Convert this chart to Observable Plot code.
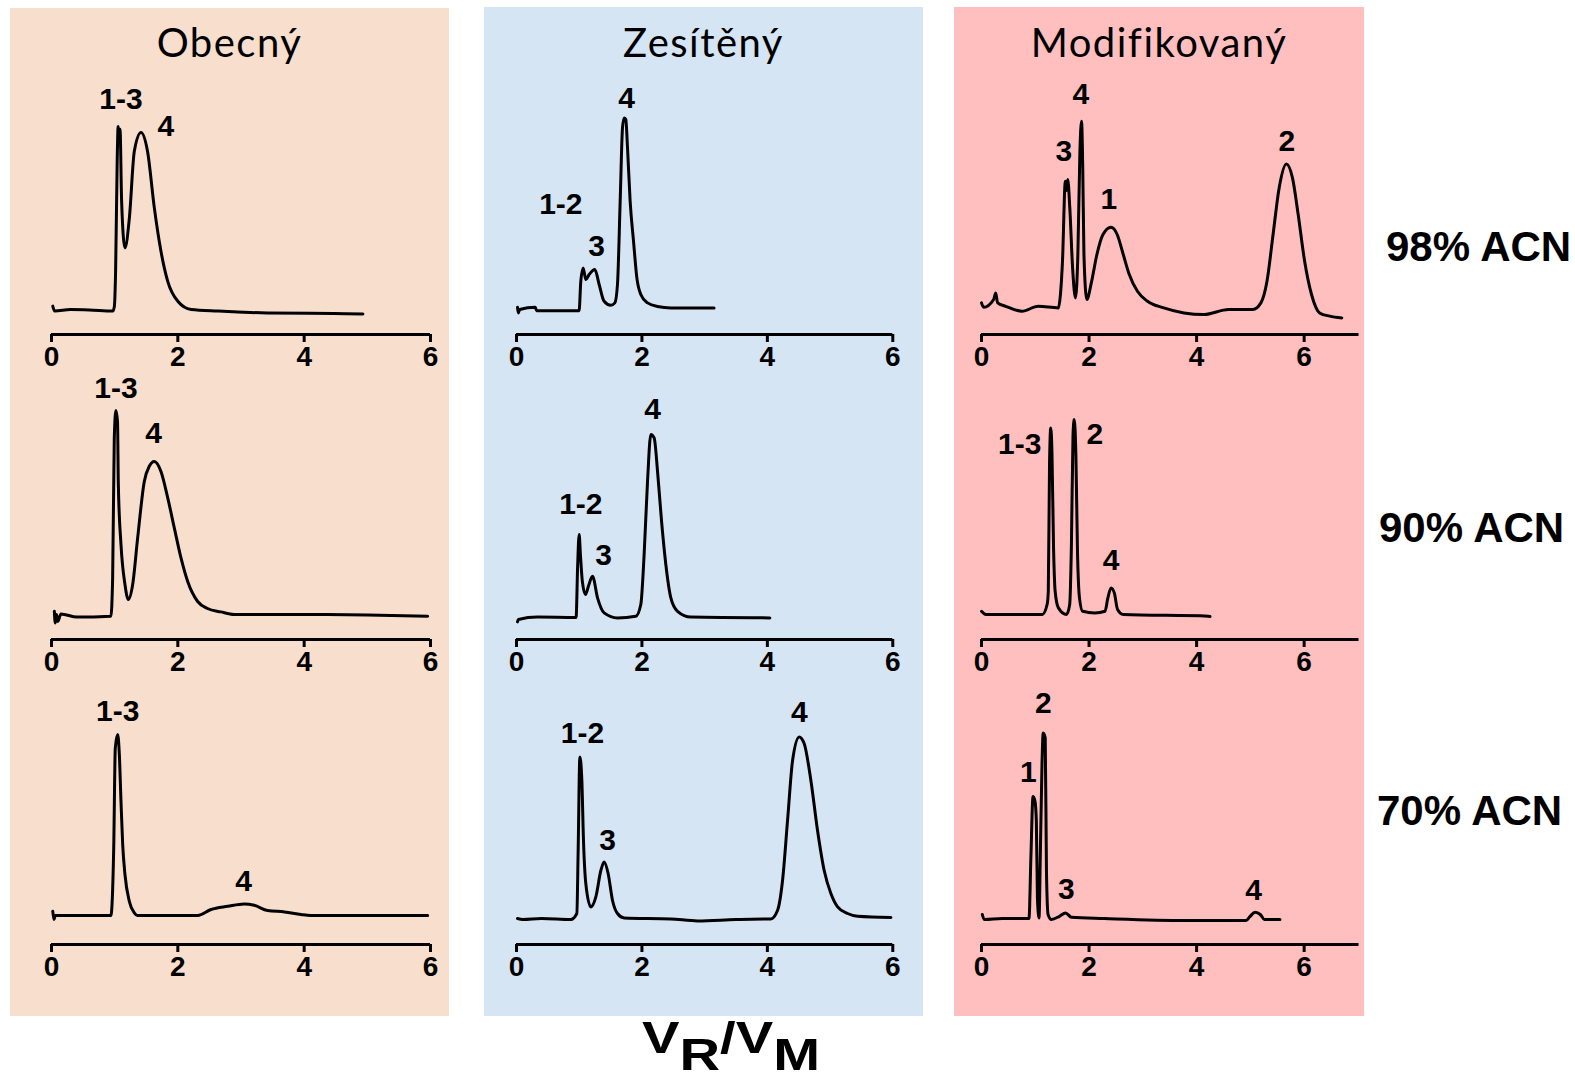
<!DOCTYPE html>
<html>
<head>
<meta charset="utf-8">
<script src="https://cdn.jsdelivr.net/npm/d3@7"></script>
<script src="https://cdn.jsdelivr.net/npm/@observablehq/plot@0.6"></script>
<style>
  body { margin: 0; background: #ffffff; }
  #fig { position: relative; width: 1575px; height: 1081px; overflow: hidden; background: #ffffff; }
  .panel { position: absolute; }
  .chart { position: absolute; }
  .chart svg { overflow: visible; max-width: none; }
  #overlay { position: absolute; left: 0; top: 0; }
</style>
</head>
<body>
<div id="fig"></div>
<script>
// ---------- DATA ----------
const columns = ["Obecný", "Zesítěný", "Modifikovaný"];
const rows = ["98% ACN", "90% ACN", "70% ACN"];
const xTicks = [0, 2, 4, 6];
const xLabel = ["V", "R", "/", "V", "M"];

// traces: [V_R/V_M, signal (a.u.)]
const obecny98 = [[0.02,2.2],[0.05,-0.3],[0.3,0.5],[0.6,0.3],[0.97,-0.3],[0.995,2],[1.015,20],[1.04,75],[1.055,92],[1.07,88],[1.085,90.6],[1.11,54.6],[1.163,31.3],[1.232,46],[1.311,79.6],[1.417,89],[1.52,79.6],[1.628,51.3],[1.733,29.6],[1.84,14.6],[2.0,4.6],[2.21,0.5],[2.64,-0.3],[3.42,-1.2],[4.47,-1.5],[4.93,-1.7]];
const obecny90 = [[0.045,2.1],[0.06,-3.7],[0.08,0.5],[0.1,-3],[0.15,0.8],[0.4,-0.8],[0.94,-0.35],[0.968,18.8],[0.994,88.8],[1.02,102.5],[1.045,97],[1.058,65.5],[1.10,35.5],[1.163,15.5],[1.216,8],[1.285,15.5],[1.364,38.8],[1.469,67],[1.548,74.6],[1.627,77],[1.733,72],[1.84,58.8],[1.944,43.8],[2.05,28.8],[2.156,17],[2.314,7],[2.47,3.5],[2.68,1.8],[2.89,0.5],[3.95,0.5],[5.0,0.3],[5.955,-0.35]];
const obecny70 = [[0.02,4.6],[0.04,0.5],[0.06,2.5],[0.94,2.5],[0.985,36.3],[1.01,86.3],[1.048,93],[1.074,83],[1.10,59.6],[1.127,38],[1.163,23],[1.232,9.6],[1.311,3.8],[1.36,2.5],[2.314,2.5],[2.525,5.5],[2.79,7.1],[3.05,8.3],[3.21,7.6],[3.42,5],[3.69,4.3],[3.95,3],[4.1,2.5],[5.955,2.5]];
const zesiteny98 = [[0.016,1.6],[0.03,-1.2],[0.05,0.5],[0.3,1.6],[0.32,-0.1],[0.998,-0.1],[1.025,14.6],[1.063,21.3],[1.105,15.5],[1.158,18],[1.249,20.5],[1.318,13],[1.397,4.6],[1.504,2.6],[1.568,3.8],[1.61,13],[1.653,54.6],[1.69,91.3],[1.716,96.3],[1.743,95.5],[1.77,81.3],[1.812,54.6],[1.866,34.6],[1.919,16.3],[1.982,8],[2.09,3.8],[2.249,2],[2.46,1.3],[3.15,1.3]];
const zesiteny90 = [[0.016,-3.2],[0.03,-2],[0.335,-0.8],[0.95,-1],[0.975,25],[0.999,40.5],[1.02,30],[1.05,17],[1.1,10.5],[1.15,15],[1.212,19.6],[1.292,8.8],[1.397,1.3],[1.61,-1.2],[1.903,-0.35],[1.982,5.5],[2.035,30.5],[2.089,67],[2.142,90.5],[2.195,88.8],[2.249,72],[2.313,47],[2.381,25.5],[2.461,8.8],[2.568,2.1],[2.78,-0.8],[4.04,-1.2]];
const zesiteny70 = [[0.016,1],[0.1,0.5],[0.4,1],[0.866,0.5],[0.962,3.5],[0.983,35],[1.01,81.8],[1.042,70],[1.068,40],[1.105,18.5],[1.185,6.8],[1.265,11.8],[1.345,25],[1.397,29.3],[1.461,23.5],[1.531,10],[1.61,3.5],[1.716,1.3],[2.46,0.8],[2.887,-0.2],[3.5,0.5],[4.056,0.8],[4.163,5.1],[4.242,20],[4.322,50],[4.402,80],[4.508,91.8],[4.587,88.5],[4.694,70],[4.8,45],[4.906,25],[5.013,13.5],[5.12,6.8],[5.279,3.5],[5.439,2.1],[5.97,1.5]];
const modif98 = [[0,3.8],[0.04,1.6],[0.226,5.5],[0.264,8.8],[0.3,3.8],[0.45,2.1],[0.753,-0.35],[1.054,2.1],[1.43,1.3],[1.468,8],[1.506,24.6],[1.559,64.6],[1.58,60],[1.604,65.5],[1.642,51.3],[1.694,21.3],[1.747,6.3],[1.792,28],[1.83,79.6],[1.86,94.6],[1.883,71.3],[1.905,28],[1.958,5.5],[2.048,14.6],[2.146,28],[2.259,38],[2.41,41.6],[2.523,38],[2.636,28],[2.748,18],[2.9,9.6],[3.087,4.6],[3.389,1.3],[3.765,-1.2],[4.14,-2],[4.593,0.5],[5.045,0.5],[5.196,3.8],[5.309,14.6],[5.422,38],[5.535,61.3],[5.67,73.3],[5.783,66.3],[5.889,48],[6.009,24.6],[6.137,8],[6.288,-1.2],[6.476,-2.8],[6.7,-3.7]];
const modif90 = [[0,2.1],[0.08,0.5],[1.13,0.5],[1.22,5.5],[1.242,12],[1.265,75.5],[1.288,93.8],[1.31,82],[1.34,33.8],[1.37,12],[1.43,3.8],[1.58,0.5],[1.64,5.5],[1.672,35.5],[1.702,90.5],[1.724,98],[1.755,80.5],[1.785,32],[1.822,8.8],[1.88,2.1],[2.108,1.3],[2.297,2.1],[2.35,8.8],[2.41,13.8],[2.47,11.3],[2.53,3],[2.636,0.5],[4.217,-0.35],[4.25,-0.5]];
const modif70 = [[0.015,3],[0.05,0.5],[0.39,1],[0.883,1],[0.92,33],[0.958,62],[0.996,59.5],[1.02,49.6],[1.04,11.3],[1.07,1.3],[1.094,33],[1.125,78],[1.147,93.8],[1.185,91.3],[1.208,24.6],[1.238,3],[1.3,0.5],[1.45,2.1],[1.562,3.8],[1.675,1.6],[2.28,1],[3.79,0],[4.92,0],[4.996,2.1],[5.087,4.1],[5.185,3],[5.26,0.5],[5.55,0.5]];

// peak labels: [text, V_R/V_M, signal]
const obecny98Peaks = [["1-3",1.10,105.6],["4",1.81,92]];
const obecny90Peaks = [["1-3",1.02,113.8],["4",1.618,91.3]];
const obecny70Peaks = [["1-3",1.048,104.6],["4",3.04,19.6]];
const zesiteny98Peaks = [["1-2",0.707,53.3],["3",1.276,32],["4",1.754,106.3]];
const zesiteny90Peaks = [["1-2",1.026,55.5],["3",1.387,30],["4",2.169,103]];
const zesiteny70Peaks = [["1-2",1.052,93.5],["3",1.451,40],["4",4.508,104.3]];
const modif98Peaks = [["3",1.53,79.5],["4",1.846,108.3],["1",2.37,55.8],["2",5.68,84.4]];
const modif90Peaks = [["1-3",0.71,85.8],["2",2.108,90.8],["4",2.41,27.7]];
const modif70Peaks = [["1",0.87,73.9],["2",1.15,108.5],["3",1.58,15.8],["4",5.06,15.3]];

const xMax = [6, 6, 7.02];

// ---------- LAYOUT ----------
const traces = [[obecny98, obecny90, obecny70],[zesiteny98, zesiteny90, zesiteny70],[modif98, modif90, modif70]];
const peaks = [[obecny98Peaks, obecny90Peaks, obecny70Peaks],[zesiteny98Peaks, zesiteny90Peaks, zesiteny70Peaks],[modif98Peaks, modif90Peaks, modif70Peaks]];
const panelColors = ["#F8DECD", "#D6E5F4", "#FFBFBF"];
const panelBox = [[10, 8, 439, 1008], [484, 7, 439, 1009], [954, 7, 410, 1009]];
const x0px = [50.5, 515.7, 980.5];
const x1px = [429.5, 892, 1358];
const axisY = [333.5, 638.5, 943.8];
const mL = 40, mR = 30, mT = 20, mB = 45, plotH = 280;
const yDomain = [-12, 128];
const sans = "'Liberation Sans', Arial, sans-serif";

const fig = document.getElementById("fig");

columns.forEach((name, c) => {
  const p = document.createElement("div");
  p.className = "panel";
  Object.assign(p.style, {left: panelBox[c][0] + "px", top: panelBox[c][1] + "px", width: panelBox[c][2] + "px", height: panelBox[c][3] + "px", background: panelColors[c]});
  fig.appendChild(p);
});

columns.forEach((name, c) => {
  rows.forEach((rname, r) => {
    const W = mL + (x1px[c] - x0px[c]) + mR;
    const H = mT + plotH + mB;
    const chart = Plot.plot({
      width: W, height: H,
      marginLeft: mL, marginRight: mR, marginTop: mT, marginBottom: mB,
      x: {domain: [0, xMax[c]]},
      y: {domain: yDomain, axis: null},
      style: {background: "transparent", overflow: "visible", maxWidth: "none", fontFamily: sans, color: "black"},
      marks: [
        Plot.ruleY([yDomain[0]], {stroke: "black", strokeWidth: 3}),
        Plot.axisX({ticks: xTicks, tickSize: 8, tickPadding: 4, strokeWidth: 3, stroke: "black", fill: "black",
          fontSize: 28, fontWeight: "bold", fontFamily: sans, label: null, tickFormat: d => String(d)}),
        Plot.line(traces[c][r], {x: d => d[0], y: d => d[1], stroke: "black", strokeWidth: 3, curve: "monotone-x", strokeLinejoin: "round"}),
        Plot.text(peaks[c][r], {x: d => d[1], y: d => d[2], text: d => d[0], fontSize: 30, fontWeight: "bold", fontFamily: sans, fill: "black", lineAnchor: "middle", textAnchor: "middle"})
      ]
    });
    const d = document.createElement("div");
    d.className = "chart";
    Object.assign(d.style, {left: (x0px[c] - mL) + "px", top: (axisY[r] - plotH - mT) + "px", width: W + "px", height: H + "px"});
    d.appendChild(chart);
    fig.appendChild(d);
  });
});

// ---------- TEXT OVERLAY ----------
const svg = d3.select(fig).append("svg").attr("id", "overlay").attr("width", 1575).attr("height", 1081);
const titleX = panelBox.map(b => b[0] + b[2] / 2);
svg.selectAll("text.title").data(columns).join("text").attr("class", "title")
  .attr("x", (d, i) => titleX[i]).attr("y", 57).attr("text-anchor", "middle")
  .style("font-family", "Lato, 'Open Sans', sans-serif").style("font-size", "40px").style("letter-spacing", "1.5px")
  .text(d => d);

const rowLabelX = [1386, 1379, 1377];
const rowLabelY = [261, 542, 825];
svg.selectAll("text.row").data(rows).join("text").attr("class", "row")
  .attr("x", (d, i) => rowLabelX[i]).attr("y", (d, i) => rowLabelY[i])
  .style("font-family", sans).style("font-size", "42px").style("font-weight", "bold")
  .text(d => d);

const xl = svg.append("text").attr("x", 642).attr("y", 1053)
  .attr("textLength", 178).attr("lengthAdjust", "spacingAndGlyphs")
  .style("font-family", sans).style("font-size", "45px").style("font-weight", "bold");
xl.append("tspan").text(xLabel[0]);
xl.append("tspan").attr("dy", 17).text(xLabel[1]);
xl.append("tspan").attr("dy", -17).text(xLabel[2]);
xl.append("tspan").text(xLabel[3]);
xl.append("tspan").attr("dy", 17).text(xLabel[4]);
</script>
</body>
</html>
